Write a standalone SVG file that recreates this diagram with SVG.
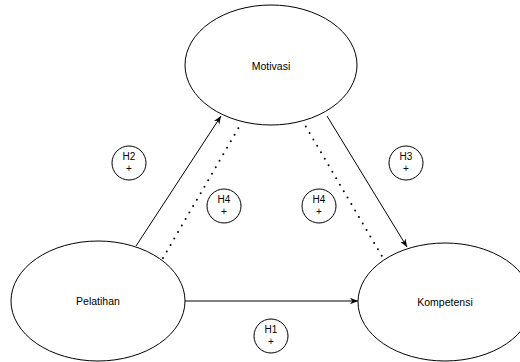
<svg xmlns="http://www.w3.org/2000/svg" width="520" height="362" viewBox="0 0 520 362">
<style>
.n{fill:#fff;stroke:#000;stroke-width:1}
.t{font-family:"Liberation Sans",Arial,sans-serif;font-size:10.5px;fill:#000;text-anchor:middle}
.h{font-family:"Liberation Sans",Arial,sans-serif;font-size:10px;fill:#000;text-anchor:middle}
.e{fill:none;stroke:#000;stroke-width:1}
.d{fill:none;stroke:#000;stroke-width:2;stroke-linecap:round;stroke-dasharray:0 7.5}
</style>
<defs>
<marker id="a" viewBox="0 0 10 10" refX="10" refY="5" markerWidth="8" markerHeight="8" orient="auto" markerUnits="userSpaceOnUse">
<path d="M0,1 L10,5 L0,9 L3,5 Z" fill="#000"/>
</marker>
</defs>
<rect width="520" height="362" fill="#fff"/>
<g id="connectors">
<line class="e" x1="136" y1="246" x2="221" y2="116" marker-end="url(#a)"/>
<line class="e" x1="327" y1="116" x2="407" y2="247" marker-end="url(#a)"/>
<line class="e" x1="185" y1="301" x2="358" y2="301" marker-end="url(#a)"/>
<line class="d" x1="163" y1="258" x2="242" y2="122"/>
<line class="d" x1="302" y1="120" x2="383" y2="258"/>
</g>
<g id="motivasi">
<ellipse class="n" cx="271" cy="65" rx="86" ry="60"/>
<text class="t" x="271" y="70">Motivasi</text>
</g>
<g id="pelatihan">
<ellipse class="n" cx="98" cy="301" rx="87" ry="60"/>
<text class="t" x="98" y="305">Pelatihan</text>
</g>
<g id="kompetensi">
<ellipse class="n" cx="445" cy="302" rx="87" ry="59"/>
<text class="t" x="445" y="306">Kompetensi</text>
</g>
<g id="h1">
<circle class="n" cx="271" cy="336" r="17"/>
<text class="h" x="271" y="333">H1</text>
<text class="h" x="271" y="345">+</text>
</g>
<g id="h2">
<circle class="n" cx="129" cy="163" r="17"/>
<text class="h" x="129" y="160">H2</text>
<text class="h" x="129" y="172">+</text>
</g>
<g id="h3">
<circle class="n" cx="406" cy="163" r="17"/>
<text class="h" x="406" y="160">H3</text>
<text class="h" x="406" y="172">+</text>
</g>
<g id="h4a">
<circle class="n" cx="224" cy="206" r="17"/>
<text class="h" x="224" y="203">H4</text>
<text class="h" x="224" y="215">+</text>
</g>
<g id="h4b">
<circle class="n" cx="319" cy="206" r="17"/>
<text class="h" x="319" y="203">H4</text>
<text class="h" x="319" y="215">+</text>
</g>
</svg>
